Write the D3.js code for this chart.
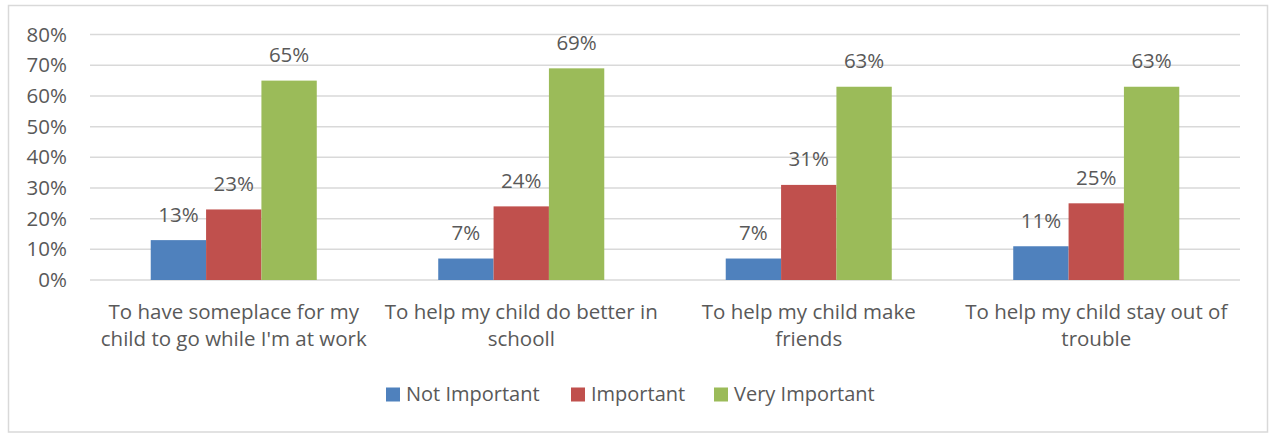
<!DOCTYPE html>
<html>
<head>
<meta charset="utf-8">
<script src="https://cdn.jsdelivr.net/npm/d3@7"></script>
<style>
  html, body { margin: 0; padding: 0; background: #fff; }
  svg text { font-family: "Open Sans", Lato, sans-serif; fill: #595959; }
</style>
</head>
<body>
<svg id="chart" width="1270" height="435"></svg>
<script>
// ---- data ----
const categories = [
  "To have someplace for my|child to go while I'm at work",
  "To help my child do better in|schooll",
  "To help my child make|friends",
  "To help my child stay out of|trouble"
];
const seriesNames = ["Not Important", "Important", "Very Important"];
const notImportant = [0.13, 0.07, 0.07, 0.11];
const important = [0.23, 0.24, 0.31, 0.25];
const veryImportant = [0.65, 0.69, 0.63, 0.63];
const yTicks = [0, 0.1, 0.2, 0.3, 0.4, 0.5, 0.6, 0.7, 0.8];
const colors = ["#4F81BD", "#C0504D", "#9BBB59"];

const seriesValues = [notImportant, important, veryImportant];
const FS = 20.5;

const svg = d3.select("#chart");

// outer border
svg.append("rect")
  .attr("x", 8.5).attr("y", 5.5)
  .attr("width", 1259).attr("height", 426.5)
  .attr("fill", "#fff").attr("stroke", "#d9d9d9").attr("stroke-width", 1.5);

const plot = { left: 90, right: 1240, top: 34.6, bottom: 280 };

const x0 = d3.scaleBand()
  .domain(categories)
  .range([plot.left, plot.right])
  .paddingInner(0.4225).paddingOuter(0.21125);
const x1 = d3.scaleBand()
  .domain(seriesNames)
  .range([0, x0.bandwidth()])
  .padding(0);
const y = d3.scaleLinear().domain([0, 0.8]).range([plot.bottom, plot.top]);

// gridlines
svg.append("g").selectAll("line").data(yTicks).join("line")
  .attr("x1", plot.left).attr("x2", plot.right)
  .attr("y1", d => y(d)).attr("y2", d => y(d))
  .attr("stroke", "#d9d9d9").attr("stroke-width", 1.5);

// y axis labels
const yAxis = d3.axisLeft(y).tickValues(yTicks).tickFormat(d3.format(".0%")).tickSize(0).tickPadding(0);
const yg = svg.append("g").attr("transform", `translate(${67},0)`).call(yAxis);
yg.select(".domain").remove();
yg.selectAll("text").attr("font-size", FS).attr("fill", "#595959")
  .style("font-family", "'Open Sans', sans-serif");

// bars
const groups = svg.append("g").selectAll("g").data(categories).join("g")
  .attr("transform", d => `translate(${x0(d)},0)`);

groups.each(function(cat, ci) {
  const g = d3.select(this);
  seriesNames.forEach((s, si) => {
    const v = seriesValues[si][ci];
    g.append("rect")
      .attr("x", x1(s)).attr("width", x1.bandwidth())
      .attr("y", y(v)).attr("height", y(0) - y(v))
      .attr("fill", colors[si]);
    g.append("text")
      .attr("x", x1(s) + x1.bandwidth() / 2)
      .attr("y", y(v) - 18.5)
      .attr("text-anchor", "middle")
      .attr("font-size", FS)
      .text(d3.format(".0%")(v));
  });
});

// category labels
const xg = svg.append("g");
categories.forEach(c => {
  const lines = c.split("|");
  const t = xg.append("text")
    .attr("text-anchor", "middle")
    .attr("font-size", FS)
    .attr("x", x0(c) + x0.bandwidth() / 2);
  lines.forEach((ln, i) => {
    t.append("tspan")
      .attr("x", x0(c) + x0.bandwidth() / 2)
      .attr("y", 318.5 + i * 27.5)
      .text(ln);
  });
});

// legend
const legendX = [386, 571, 714];
const lg = svg.append("g");
seriesNames.forEach((s, i) => {
  lg.append("rect").attr("x", legendX[i]).attr("y", 387.5)
    .attr("width", 14).attr("height", 14).attr("fill", colors[i]);
  lg.append("text").attr("x", legendX[i] + 20).attr("y", 401)
    .attr("font-size", 20).text(s);
});
</script>
</body>
</html>
